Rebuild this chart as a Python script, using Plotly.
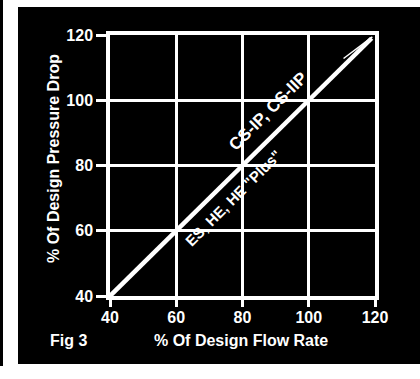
import plotly.graph_objects as go

# Data
flow_rate = [40, 119]          # % of design flow rate
pressure_drop = [40, 119]      # % of design pressure drop
cs_flow = [110.5, 119.2]       # CS-IP / CS-IIP branch near the top
cs_pressure = [112.8, 119.4]
x_ticks = [40, 60, 80, 100, 120]
y_ticks = [40, 60, 80, 100, 120]
label_upper = "CS-IP, CS-IIP"
label_lower = 'ES, HE, HE "Plus"'

W, H = 420, 379
L, R, T, B = 110, 45, 35, 83
pw, ph = W - L - R, H - T - B

def px(x):
    return (x - L) / pw

def py(y):
    return (H - B - y) / ph

font_bold = dict(family="Liberation Sans, Arial, sans-serif", color="white", weight="bold")

fig = go.Figure()
fig.add_trace(go.Scatter(x=flow_rate, y=pressure_drop, mode="lines",
                         line=dict(color="white", width=4.5), hoverinfo="skip"))
fig.add_trace(go.Scatter(x=cs_flow, y=cs_pressure, mode="lines",
                         line=dict(color="white", width=1.5), hoverinfo="skip"))

fig.add_annotation(x=87.7, y=96.5, text=label_upper, showarrow=False, textangle=-45,
                   xanchor="center", yanchor="middle", font=dict(size=17, **font_bold))
fig.add_annotation(x=77.0, y=70.0, text=label_lower, showarrow=False, textangle=-45,
                   xanchor="center", yanchor="middle", font=dict(size=15, **font_bold))

fig.add_annotation(xref="paper", yref="paper", x=px(241), y=py(340), text="% Of Design Flow Rate",
                   showarrow=False, xanchor="center", yanchor="middle", font=dict(size=16, **font_bold))
fig.add_annotation(xref="paper", yref="paper", x=px(53), y=py(159), text="% Of Design Pressure Drop",
                   showarrow=False, textangle=-90, xanchor="center", yanchor="middle",
                   font=dict(size=16, **font_bold))
fig.add_annotation(xref="paper", yref="paper", x=px(68), y=py(340), text="Fig 3",
                   showarrow=False, xanchor="center", yanchor="middle", font=dict(size=16, **font_bold))

# white page margins around the black panel (paper background is black)
white_boxes = [
    (3, 18, 0, 379),      # left strip between thin bar and panel
    (0, 420, 0, 7),       # top strip
    (0, 420, 364, 379),   # bottom strip
]
for x0, x1, y0, y1 in white_boxes:
    fig.add_shape(type="rect", xref="paper", yref="paper", x0=px(x0), x1=px(x1), y0=py(y1), y1=py(y0),
                  fillcolor="white", line=dict(width=0), layer="below")
# thin black bar at far left
fig.add_shape(type="rect", xref="paper", yref="paper", x0=px(0), x1=px(3), y0=py(366), y1=py(0),
              fillcolor="black", line=dict(width=0), layer="below")

axis_common = dict(range=[40, 120], showgrid=True, gridcolor="white", gridwidth=3,
                   showline=True, linecolor="white", linewidth=3.5, mirror=True,
                   ticks="outside", tickcolor="white", tickwidth=3, zeroline=False,
                   tickfont=dict(size=16, **font_bold))
fig.update_xaxes(tickvals=x_ticks, ticklen=7, ticklabelstandoff=-3, **axis_common)
fig.update_yaxes(tickvals=y_ticks, ticklen=10, **axis_common)

fig.update_layout(width=W, height=H, margin=dict(l=L, r=R, t=T, b=B),
                  paper_bgcolor="black", plot_bgcolor="black", showlegend=False)

css_fix = (
    "var s=document.createElement('style');"
    "s.innerHTML='html,body{margin:0!important;padding:0!important;overflow:hidden!important;}"
    "::-webkit-scrollbar{display:none;}';"
    "document.head.appendChild(s);"
    "document.documentElement.style.overflow='hidden';"
    "document.body.style.margin='0';document.body.style.overflow='hidden';"
)
fig.write_html("out.html", config={"displayModeBar": False}, post_script=css_fix)
